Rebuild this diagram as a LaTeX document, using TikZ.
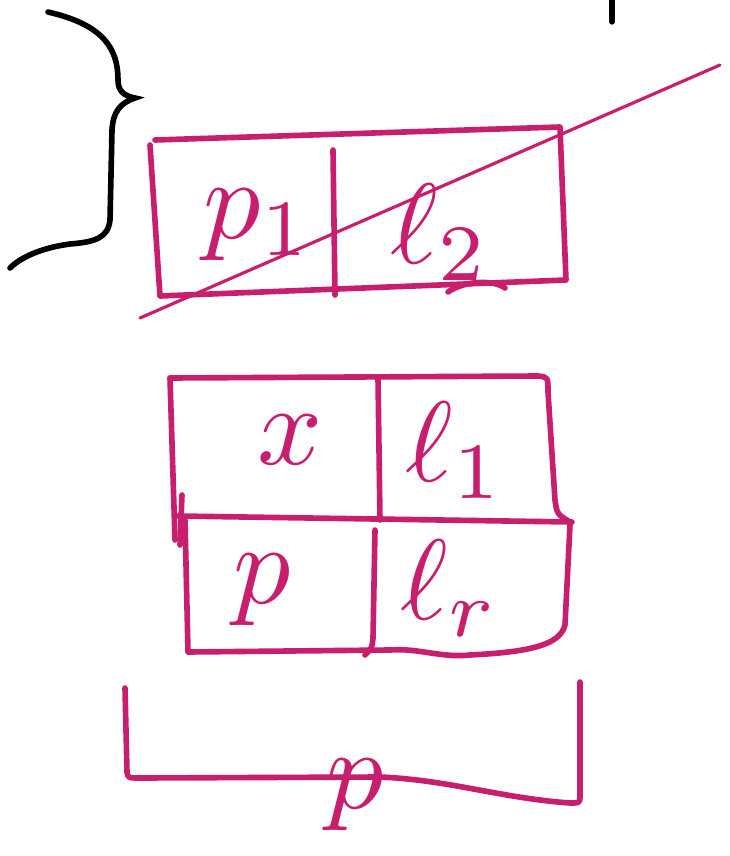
\documentclass[tikz,border=0pt]{standalone}
\usepackage{tikz}
\definecolor{ink}{RGB}{200,30,110}
\tikzset{
  pen/.style={draw=ink,line width=3.2pt,line cap=round,line join=round},
  thinpen/.style={draw=ink,line width=1.8pt,line cap=round},
  sym/.style={text=ink,scale=6.5,inner sep=0pt}
}

\begin{document}
\begin{tikzpicture}[x=0.02cm,y=-0.02cm]
    \useasboundingbox (0,0) rectangle (730,856);
    % black brace and tick
    \draw[black,line width=3.2pt,line cap=round] (48,12) .. controls (105,25) and (118,50) .. (118,80) .. controls (118,92) and (125,96) .. (135,98) .. controls (120,103) and (113,112) .. (112,130) -- (110,220) .. controls (108,238) and (95,242) .. (70,244) .. controls (40,248) and (20,258) .. (10,268);
    \draw[black,line width=3pt,line cap=round] (612,0) -- (612,22);

    % top box
    \draw[pen] (155,140) -- (560,127) -- (566,280) -- (160,296) -- (150,145);
    \draw[pen] (333,150) -- (335,295);
    \draw[pen] (448,292) .. controls (465,280) and (495,280) .. (505,288);
    \draw[thinpen] (140,318) -- (720,65);
    \node[sym] (pone) at (258,225) {$p_1$};
    \node[sym] (ltwo) at (440,232) {$\ell_2$};

    % middle box
    \draw[pen] (170,378) -- (538,376) .. controls (548,377) .. (548,392) -- (555,500) .. controls (557,514) .. (570,522);
    \draw[pen] (170,378) -- (175,540);
    \draw[pen] (182,495) -- (180,545);
    \draw[pen] (178,516) -- (572,522);
    \draw[pen] (378,378) -- (380,520);
    \draw[pen] (185,520) -- (188,652) -- (390,650) .. controls (420,648) and (440,658) .. (470,655) .. controls (530,652) and (560,645) .. (565,625) -- (570,525);
    \draw[pen] (375,530) -- (373,638) .. controls (372,648) .. (365,655);
    \node[sym] (xx) at (290,440) {$x$};
    \node[sym] (lone) at (455,450) {$\ell_1$};
    \node[sym] (pp) at (262,590) {$p$};
    \node[sym] (lr) at (450,588) {$\ell_r$};

    % bottom bracket
    \draw[pen] (125,688) -- (127,772) .. controls (128,778) .. (140,778) -- (380,777) .. controls (450,780) and (500,798) .. (570,803) .. controls (580,803) .. (580,795) -- (580,682);
    \node[sym] (plabel) at (355,795) {$p$};
\end{tikzpicture}
\end{document}
